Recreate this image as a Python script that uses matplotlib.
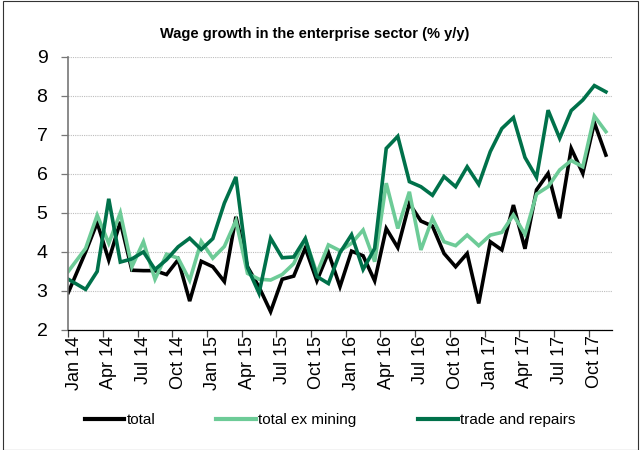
import matplotlib
matplotlib.use("Agg")
import matplotlib.pyplot as plt
import numpy as np
from matplotlib import font_manager
from matplotlib.patches import Rectangle

# monthly y/y wage growth, Jan 14 .. Nov 17
total = [2.96, 4.0, 4.75, 3.79, 4.77, 3.53, 3.52, 3.52, 3.42, 3.8, 2.74, 3.76,
         3.62, 3.24, 4.9, 3.62, 3.1, 2.47, 3.3, 3.38, 4.1, 3.26, 3.98, 3.11,
         4.02, 3.9, 3.26, 4.6, 4.11, 5.24, 4.79, 4.66, 3.96, 3.62, 3.96, 2.68,
         4.26, 4.05, 5.2, 4.08, 5.59, 6.01, 4.86, 6.65, 6.01, 7.31, 6.48]
total_ex_mining = [3.5, 4.09, 4.94, 4.22, 5.0, 3.62, 4.26, 3.3, 3.94, 3.84, 3.27, 4.27,
                   3.84, 4.14, 4.8, 3.45, 3.3, 3.28, 3.42, 3.7, 4.33, 3.45, 4.18, 4.03,
                   4.22, 4.56, 3.75, 5.76, 4.6, 5.54, 4.05, 4.86, 4.26, 4.16, 4.43, 4.16,
                   4.43, 4.5, 4.95, 4.45, 5.48, 5.67, 6.1, 6.34, 6.18, 7.48, 7.08]
trade_repairs = [3.3, 3.04, 3.5, 5.36, 3.74, 3.82, 4.0, 3.55, 3.8, 4.13, 4.35, 4.06,
                 4.34, 5.25, 5.92, 3.6, 2.94, 4.35, 3.85, 3.87, 4.34, 3.37, 3.19, 3.98,
                 4.44, 3.55, 4.09, 6.65, 6.96, 5.8, 5.67, 5.45, 5.93, 5.67, 6.18, 5.73,
                 6.57, 7.16, 7.44, 6.42, 5.91, 7.63, 6.91, 7.62, 7.89, 8.26, 8.1]

tick_labels = ["Jan 14", "Apr 14", "Jul 14", "Oct 14", "Jan 15", "Apr 15", "Jul 15", "Oct 15",
               "Jan 16", "Apr 16", "Jul 16", "Oct 16", "Jan 17", "Apr 17", "Jul 17", "Oct 17"]

BLACK = "#000000"
LIGHT = "#6DCB97"
DARK = "#00714A"


def pick_font():
    names = {f.name for f in font_manager.fontManager.ttflist}
    for name in ["Liberation Sans Narrow", "Arial Narrow", "Liberation Sans"]:
        if name in names:
            return name
    return "DejaVu Sans"


def draw():
    narrow = pick_font()
    plt.rcParams["font.family"] = [narrow, "DejaVu Sans"]

    fig = plt.figure(figsize=(6.43, 4.5), dpi=100)
    ax = fig.add_axes([0.1062, 0.2667, 0.8451, 0.6073])

    n = len(total)
    x = np.arange(n) + 0.5
    x[0] = 0.0  # first observation sits on the value axis, as in the original

    ax.plot(x, total, color=BLACK, lw=2.6, label="total", solid_joinstyle="miter")
    ax.plot(x, total_ex_mining, color=LIGHT, lw=2.6, label="total ex mining", solid_joinstyle="miter")
    ax.plot(x, trade_repairs, color=DARK, lw=2.6, label="trade and repairs", solid_joinstyle="miter")

    ax.set_xlim(0, n)
    ax.set_ylim(2, 9)
    ax.set_yticks(range(2, 10))
    ax.grid(axis="y", color="#bdbdbd", linestyle=(0, (1, 1)), linewidth=0.8)
    ax.set_axisbelow(True)

    ax.set_xticks(np.arange(0, n, 3))
    ax.set_xticklabels([])
    ax.set_xticks(np.arange(0, n, 3) + 0.5, minor=True)
    ax.set_xticklabels(tick_labels, minor=True, rotation=90, fontsize=13)
    ax.tick_params(axis="x", which="major", length=5, width=0.9, direction="out", color="#444444")
    ax.tick_params(axis="x", which="minor", length=0, pad=4)
    ax.tick_params(axis="y", length=5, width=0.9, color="#777777", labelsize=14, pad=10)

    for side in ["top", "right"]:
        ax.spines[side].set_visible(False)
    ax.spines["left"].set_color("#777777")
    ax.spines["left"].set_linewidth(1.2)
    ax.spines["bottom"].set_color("#000000")
    ax.spines["bottom"].set_linewidth(0.9)

    fig.text(0.49, 0.925, "Wage growth in the enterprise sector (% y/y)",
             ha="center", va="center", fontsize=10.5, fontweight="bold",
             family=["Liberation Sans", "DejaVu Sans"])

    leg = fig.legend(loc="center", bbox_to_anchor=(0.513, 0.067), ncol=3, frameon=False,
                     fontsize=11, handlelength=2.6, handletextpad=0.15, columnspacing=4.0)
    for line in leg.get_lines():
        line.set_linewidth(3)

    fig.patches.append(Rectangle((0.005, 0.0), 0.988, 0.998, transform=fig.transFigure,
                                 fill=False, edgecolor="#333333", linewidth=0.8))

    fig.savefig("out.png", dpi=100)
    plt.close(fig)


if __name__ == "__main__":
    draw()
